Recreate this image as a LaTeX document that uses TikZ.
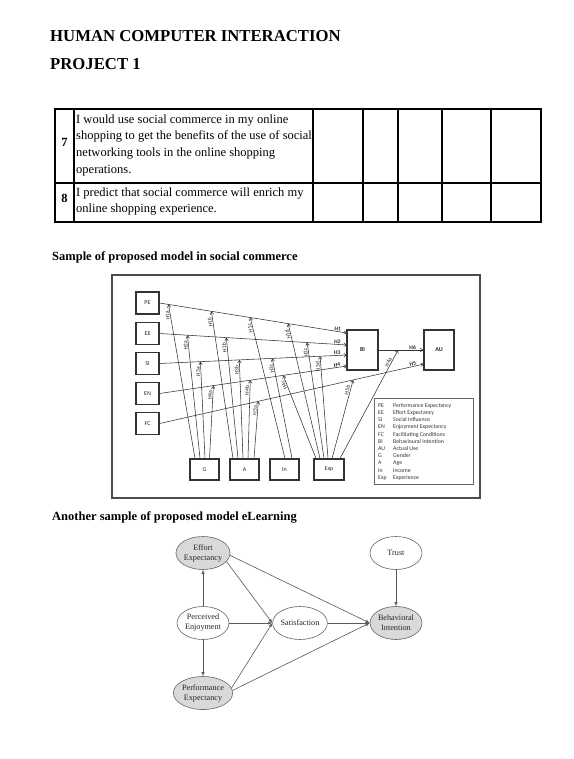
\documentclass[tikz,border=0pt]{standalone}
\usepackage{fontspec}
\setmainfont{Liberation Serif}
\newfontfamily\diafont{Carlito}
\usetikzlibrary{arrows.meta,shapes.geometric,calc}
\begin{document}
\begin{tikzpicture}[x=1pt,y=-1pt,
  tline/.style={line width=2pt, line cap=rect},
  ttext/.style={anchor=north west, inner sep=0pt, align=left, font=\fontsize{12.5}{16.7}\selectfont},
  tnum/.style={anchor=base, inner sep=0pt, font=\bfseries\fontsize{12.5}{15}\selectfont},
  title/.style={anchor=base west, inner sep=0pt, font=\bfseries\fontsize{16.7}{20}\selectfont},
  head/.style={anchor=base west, inner sep=0pt, font=\bfseries\fontsize{12.5}{15}\selectfont},
  frame/.style={draw=black!70, line width=1.3pt},
  box/.style={draw=black!80, line width=1.1pt, minimum width=23pt, minimum height=22pt, inner sep=0pt, font=\diafont\fontsize{6}{7}\selectfont, text=black!85},
  bbox/.style={box, minimum width=29pt, minimum height=21pt},
  conn/.style={draw=black!80, line width=0.55pt, -{Straight Barb[length=2.6pt,width=3.4pt]}},
  hlab/.style={font=\diafont\bfseries\fontsize{5.6}{6}\selectfont, text=black!85, inner sep=0.6pt, sloped, anchor=south east},
  mlab/.style={font=\diafont\fontsize{5.6}{6}\selectfont, text=black!85, inner sep=0.7pt, sloped, allow upside down, anchor=south east},
  legbox/.style={draw=black!60, line width=0.5pt, minimum width=99pt, minimum height=86pt, inner sep=0pt},
  legtext/.style={anchor=north west, inner sep=0pt, font=\diafont\fontsize{5.8}{7.2}\selectfont, text=black!80},
  ell/.style={ellipse, draw=black!60, line width=0.6pt, minimum width=52pt, minimum height=33pt, inner sep=0pt, align=center, font=\fontsize{8.2}{10}\selectfont, text=black!85},
  gell/.style={ell, fill=black!15},
  earr/.style={draw=black!65, line width=0.6pt, -{Latex[length=4pt,width=3.2pt]}}
]
\useasboundingbox (0,0) rectangle (573,759);
\fill[white] (0,0) rectangle (573,759);

% titles
\node[title] (t1) at (50,42) {HUMAN COMPUTER INTERACTION};
\node[title] (t2) at (50,70) {PROJECT 1};

% table
\draw[tline] (55,109) rectangle (541,222);
\draw[tline] (55,183) -- (541,183);
\foreach \x in {74,313,363,398,442,491} \draw[tline] (\x,109) -- (\x,222);
\node[tnum] (n7) at (64.5,147) {7};
\node[tnum] (n8) at (64.5,203) {8};
\node[ttext] (q7) at (76,114.4) {I would use social commerce in my online\\shopping to get the benefits of the use of social\\networking tools in the online shopping\\operations.};
\node[ttext] (q8) at (76,187.4) {I predict that social commerce will enrich my\\online shopping experience.};

% headings
\node[head] (h1) at (52,260) {Sample of proposed model in social commerce};
\node[head] (h2) at (52,520) {Another sample of proposed model eLearning};

% social commerce model
\draw[frame] (112,275) rectangle (480,498);
\node[box] (PE) at (147.5,303) {PE};
\node[box] (EE) at (147.5,333.5) {EE};
\node[box] (SI) at (147.5,363.5) {SI};
\node[box] (EN) at (147.5,393.5) {EN};
\node[box] (FC) at (147.5,423.5) {FC};
\node[bbox] (G) at (204.5,469.5) {G};
\node[bbox] (A) at (244.5,469.5) {A};
\node[bbox] (In) at (284.5,469.5) {In};
\node[bbox, minimum width=30pt] (Exp) at (329,469.5) {Exp};
\node[box, minimum width=31pt, minimum height=40pt, font=\diafont\bfseries\fontsize{6}{7}\selectfont] (BI) at (362.5,350) {BI};
\node[box, minimum width=30pt, minimum height=40pt, font=\diafont\bfseries\fontsize{6}{7}\selectfont] (AU) at (439,350) {AU};

\coordinate (bi1) at (347,333);
\coordinate (bi2) at (347,345);
\coordinate (bi3) at (347,355);
\coordinate (bi4) at (347,366);
\coordinate (au5) at (424,364);

\draw[conn] (PE.east) -- (bi1) node[hlab,pos=0.97] {H1};
\draw[conn] (EE.east) -- (bi2) node[hlab,pos=0.97] {H2};
\draw[conn] (SI.east) -- (bi3) node[hlab,pos=0.97] {H3};
\draw[conn] (EN.east) -- (bi4) node[hlab,pos=0.97] {H4};
\draw[conn] (FC.east) -- (au5) node[hlab,pos=0.975] {H5};
\draw[conn] (BI.east) -- (AU.west) node[hlab,pos=0.85] {H6};

% tips on the paths
\coordinate (h1a) at ($(PE.east)!0.0479!(bi1)$);
\coordinate (h1b) at ($(PE.east)!0.2766!(bi1)$);
\coordinate (h1c) at ($(PE.east)!0.4840!(bi1)$);
\coordinate (h1d) at ($(PE.east)!0.6862!(bi1)$);
\coordinate (h2a) at ($(EE.east)!0.1489!(bi2)$);
\coordinate (h2b) at ($(EE.east)!0.3564!(bi2)$);
\coordinate (h2c) at ($(EE.east)!0.7872!(bi2)$);
\coordinate (h3a) at ($(SI.east)!0.2181!(bi3)$);
\coordinate (h3b) at ($(SI.east)!0.4255!(bi3)$);
\coordinate (h3c) at ($(SI.east)!0.6011!(bi3)$);
\coordinate (h3d) at ($(SI.east)!0.8564!(bi3)$);
\coordinate (h4a) at ($(EN.east)!0.2872!(bi4)$);
\coordinate (h4b) at ($(EN.east)!0.4840!(bi4)$);
\coordinate (h4c) at ($(EN.east)!0.6596!(bi4)$);
\coordinate (h5a) at ($(FC.east)!0.3736!(au5)$);
\coordinate (h5b) at ($(FC.east)!0.7321!(au5)$);
\coordinate (h6a) at ($(BI.east)!0.4348!(AU.west)$);

% gender
\draw[conn] ([xshift=-9.5pt]G.north) -- (h1a) node[mlab,pos=0.965] {H1a};
\draw[conn] ([xshift=-4.5pt]G.north) -- (h2a) node[mlab,pos=0.965] {H2a};
\draw[conn] ([xshift=0.5pt]G.north) -- (h3a) node[mlab,pos=0.955] {H3a};
\draw[conn] ([xshift=5pt]G.north) -- (h4a) node[mlab,pos=0.94] {H4a};
% age
\draw[conn] ([xshift=-11.5pt]A.north) -- (h1b) node[mlab,pos=0.965] {H1b};
\draw[conn] ([xshift=-6.5pt]A.north) -- (h2b) node[mlab,pos=0.965] {H2b};
\draw[conn] ([xshift=-1.5pt]A.north) -- (h3b) node[mlab,pos=0.955] {H3b};
\draw[conn] ([xshift=3.5pt]A.north) -- (h4b) node[mlab,pos=0.94] {H4b};
\draw[conn] ([xshift=9.5pt]A.north) -- (h5a) node[mlab,pos=0.93] {H5a};
% income
\draw[conn] ([xshift=0.5pt]In.north) -- (h1c) node[mlab,pos=0.965] {H1c};
\draw[conn] ([xshift=7.5pt]In.north) -- (h3c) node[mlab,pos=0.955] {H3c};
% experience
\draw[conn] ([xshift=-13pt]Exp.north) -- (h4c) node[mlab,pos=0.955] {H4c};
\draw[conn] ([xshift=-9pt]Exp.north) -- (h1d) node[mlab,pos=0.965] {H1d};
\draw[conn] ([xshift=-5pt]Exp.north) -- (h2c) node[mlab,pos=0.96] {H2c};
\draw[conn] ([xshift=-1pt]Exp.north) -- (h3d) node[mlab,pos=0.955] {H3d};
\draw[conn] ([xshift=3pt]Exp.north) -- (h5b) node[mlab,pos=0.93] {H5b};
\draw[conn] ([xshift=11pt]Exp.north) -- (h6a) node[mlab,pos=0.92] {H6a};

% legend
\node[legbox] (legend) at (423.5,441) {};
\node[legtext] (legendtext) at (378,402) {%
\begin{tabular}{@{}p{12pt}@{\hspace{3pt}}l@{}}
PE & Performance Expectancy\\
EE & Effort Expectancy\\
SI & Social Influence\\
EN & Enjoyment Expectancy\\
FC & Facilitating Conditions\\
BI & Behavioural Intention\\
AU & Actual Use\\
G & Gender\\
A & Age\\
In & Income\\
Exp & Experience
\end{tabular}};

% eLearning model
\node[gell] (EEx) at (203,553) {Effort\\Expectancy};
\node[ell] (Trust) at (396,553) {Trust};
\node[ell] (PEn) at (203,623) {Perceived\\Enjoyment};
\node[ell] (Sat) at (300,623) {Satisfaction};
\node[gell] (BIx) at (396,623) {Behavioral\\Intention};
\node[gell] (PEx) at (203,693) {Performance\\Expectancy};

\draw[earr] (PEn) -- (EEx);
\draw[earr] (PEn) -- (PEx);
\draw[earr] (PEn) -- (Sat.west);
\draw[earr] (EEx.-20) -- (Sat.west);
\draw[earr] (EEx.-5) -- (BIx.west);
\draw[earr] (Sat) -- (BIx.west);
\draw[earr] (Trust) -- (BIx);
\draw[earr] (PEx.10) -- (Sat.west);
\draw[earr] (PEx.5) -- (BIx.west);
\end{tikzpicture}
\end{document}
